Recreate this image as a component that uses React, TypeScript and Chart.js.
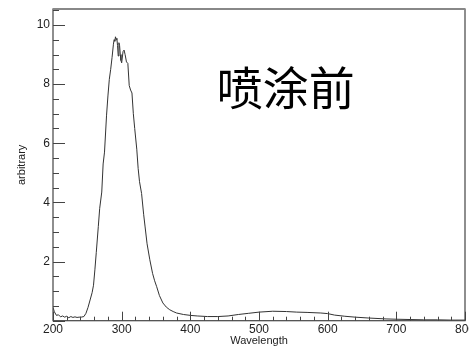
import React, { useEffect, useRef } from "react";
import { Chart, registerables } from "chart.js";

Chart.register(...registerables);

// Emission spectrum (wavelength in nm, intensity in arbitrary units)
const wavelengths = [
  200, 202, 205, 208, 211, 214, 217, 220, 223, 226, 229, 232, 235, 238, 241,
  245, 248, 251, 254, 257, 259, 261, 263, 266, 268, 271, 273, 275, 278, 280,
  282, 284, 286, 288, 289, 290, 291, 292, 293, 294, 295, 296, 297, 298, 299,
  300, 302, 303.5, 305, 307, 309, 311, 313, 315, 317, 319, 322, 324, 326, 329,
  332, 334, 337, 341, 345, 348, 351, 355, 360, 365, 370, 375, 380, 390, 400,
  410, 425, 440, 455, 470, 485, 500, 520, 540, 555, 570, 590, 600, 610, 625,
  640, 660, 685, 700, 720, 740, 760, 780, 800,
];
const intensity = [
  0.45, 0.3, 0.18, 0.2, 0.13, 0.16, 0.12, 0.15, 0.1, 0.14, 0.11, 0.13, 0.11, 0.12, 0.12,
  0.14, 0.25, 0.45, 0.7, 0.95, 1.2, 1.72, 2.3, 3.19, 3.8, 4.35, 5.3, 5.7, 6.95, 7.6,
  8.16, 8.5, 8.9, 9.35, 9.5, 9.45, 9.6, 9.5, 9.55, 9.3, 8.95, 9.4, 9.3, 9.0, 8.8,
  8.72, 9.1, 9.15, 9.0, 8.75, 8.7, 7.95, 7.8, 7.7, 7.0, 6.5, 5.8, 5.15, 4.7, 4.3,
  3.6, 3.2, 2.6, 2.06, 1.6, 1.35, 1.15, 0.85, 0.6, 0.46, 0.37, 0.31, 0.26, 0.21, 0.18,
  0.16, 0.14, 0.14, 0.16, 0.21, 0.25, 0.29, 0.32, 0.31, 0.29, 0.28, 0.26, 0.24, 0.19, 0.15,
  0.12, 0.09, 0.06, 0.05, 0.04, 0.03, 0.03, 0.02, 0.02,
];

const xMajorTicks = [200, 300, 400, 500, 600, 700, 800];
const yMajorTicks = [2, 4, 6, 8, 10];
const xMinorStep = 20;
const yMinorStep = 0.5;

const annotationText = "喷涂前";
const xTitle = "Wavelength";
const yTitle = "arbitrary";

const frameColor = "#444";
const lineColor = "#333";

// Inward tick marks, plot frame and the annotation text
const framePlugin = {
  id: "frameAndTicks",
  afterDatasetsDraw(chart: any) {
    const { ctx, chartArea } = chart;
    const { left, right, top, bottom } = chartArea;
    const xs = chart.scales.x;
    const ys = chart.scales.y;
    ctx.save();
    ctx.strokeStyle = frameColor;
    ctx.lineWidth = 1;
    ctx.beginPath();
    // x ticks (pointing up into the plot)
    for (let v = xs.min; v <= xs.max + 1e-6; v += xMinorStep) {
      const px = Math.round(xs.getPixelForValue(v)) + 0.5;
      const major = xMajorTicks.includes(Math.round(v));
      const len = major ? 9 : 4;
      ctx.moveTo(px, bottom);
      ctx.lineTo(px, bottom - len);
    }
    // y ticks (pointing right into the plot)
    for (let v = 0; v <= ys.max + 1e-6; v += yMinorStep) {
      const py = Math.round(ys.getPixelForValue(v)) + 0.5;
      const major = Math.abs(v - Math.round(v)) < 1e-6 && Math.round(v) % 2 === 0;
      const len = major ? 12 : 6;
      ctx.moveTo(left, py);
      ctx.lineTo(left + len, py);
    }
    ctx.stroke();

    // frame
    ctx.lineWidth = 1.2;
    ctx.strokeStyle = frameColor;
    ctx.strokeRect(left, top, right - left, bottom - top);
    ctx.strokeStyle = "#888";
    ctx.lineWidth = 2;
    ctx.beginPath();
    ctx.moveTo(left, top);
    ctx.lineTo(right, top);
    ctx.stroke();

    // annotation
    ctx.fillStyle = "#000";
    ctx.font = '46px "Noto Sans CJK SC"';
    ctx.textAlign = "center";
    ctx.textBaseline = "middle";
    ctx.fillText(annotationText, xs.getPixelForValue(539), ys.getPixelForValue(7.9));
    ctx.restore();
  },
};

export default function App() {
  const canvasRef = useRef<HTMLCanvasElement | null>(null);

  useEffect(() => {
    const canvas = canvasRef.current;
    if (!canvas) return;
    const points = wavelengths.map((w, i) => ({ x: w, y: intensity[i] }));
    const tickFont = { family: '"Liberation Sans", Arial, sans-serif', size: 12 };
    const titleFont = { family: '"Liberation Sans", Arial, sans-serif', size: 11 };

    const chart = new Chart(canvas, {
      type: "line",
      data: {
        datasets: [
          {
            data: points,
            borderColor: lineColor,
            borderWidth: 1,
            pointRadius: 0,
            tension: 0,
            fill: false,
          },
        ],
      },
      options: {
        responsive: false,
        animation: false,
        parsing: false,
        layout: { padding: { top: 9, right: 4, left: 0, bottom: 0 } },
        plugins: { legend: { display: false }, tooltip: { enabled: false } },
        scales: {
          x: {
            type: "linear",
            min: 200,
            max: 800,
            grid: { display: false, drawTicks: false },
            border: { display: false },
            ticks: {
              stepSize: 100,
              includeBounds: false,
              padding: 2,
              color: "#222",
              font: tickFont,
              maxRotation: 0,
              autoSkip: false,
              callback: (v: any) => (xMajorTicks.includes(Number(v)) ? String(v) : ""),
            },
            title: {
              display: true,
              text: xTitle,
              color: "#222",
              font: titleFont,
              padding: { top: 0, bottom: 0 },
            },
            afterFit: (scale: any) => {
              scale.height = 27.3;
              scale.paddingLeft = 0;
              scale.paddingRight = 0;
            },
          },
          y: {
            type: "linear",
            min: 0,
            max: 10.54,
            grid: { display: false, drawTicks: false },
            border: { display: false },
            ticks: {
              stepSize: 2,
              includeBounds: false,
              padding: 3,
              color: "#222",
              font: tickFont,
              callback: (v: any) => (yMajorTicks.includes(Number(v)) ? String(v) : ""),
            },
            title: {
              display: true,
              text: yTitle,
              color: "#222",
              font: titleFont,
              padding: { top: 15, bottom: 0 },
            },
            afterFit: (scale: any) => {
              scale.width = 53;
              scale.paddingTop = 0;
              scale.paddingBottom = 0;
            },
          },
        },
      },
      plugins: [framePlugin],
    });
    return () => chart.destroy();
  }, []);

  return (
    <div style={{ position: "absolute", left: 0, top: 0, width: 469, height: 348, background: "#fff" }}>
      <canvas ref={canvasRef} width={469} height={348} />
    </div>
  );
}
